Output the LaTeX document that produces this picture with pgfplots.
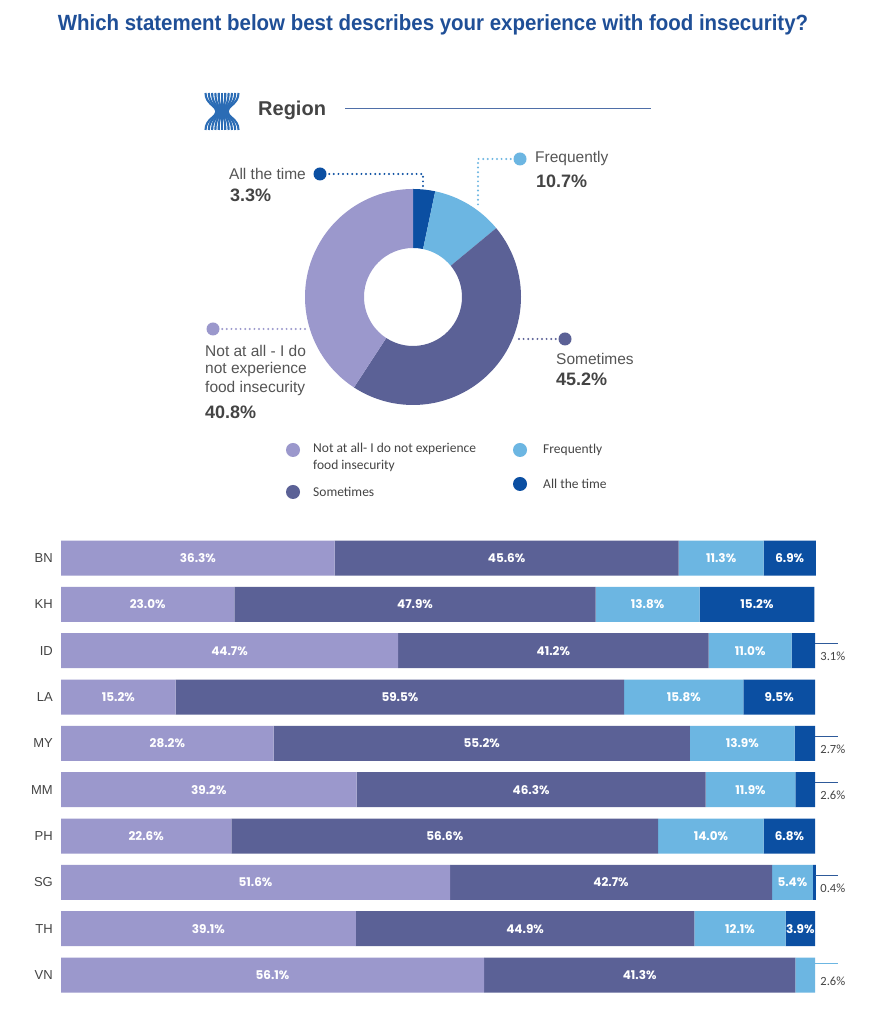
\documentclass[border=0pt]{standalone}
\usepackage{pgfplots}
\usepackage{pgfplotstable}
\pgfplotsset{compat=1.18}
\usepackage{fontspec}
\setmainfont{Liberation Sans}
\newfontfamily\carlito{Carlito}
\newfontfamily\poppins{Poppins}
\definecolor{cNot}{HTML}{9B98CC}
\definecolor{cSome}{HTML}{5B6196}
\definecolor{cFreq}{HTML}{6CB6E2}
\definecolor{cAll}{HTML}{0B4FA2}
\definecolor{titleblue}{HTML}{1F4F97}
\definecolor{txt}{HTML}{555555}
\definecolor{pct}{HTML}{444444}
\definecolor{iconblue}{HTML}{2B6CB5}
\definecolor{rule}{HTML}{4F6FA8}
\definecolor{lineblue}{HTML}{2E5A9A}

% rows: 9 = BN (top) ... 0 = VN (bottom)
\pgfplotstableread{
r a b c d
9 36.3 45.6 11.3 6.9
8 23.0 47.9 13.8 15.2
7 44.7 41.2 11.0 3.1
6 15.2 59.5 15.8 9.5
5 28.2 55.2 13.9 2.7
4 39.2 46.3 11.9 2.6
3 22.6 56.6 14.0 6.8
2 51.6 42.7 5.4 0.4
1 39.1 44.9 12.1 3.9
0 56.1 41.3 2.6 0.0
}\bardata

\pgfplotstableread{
x y v
18.15 9 36.3
59.10 9 45.6
87.55 9 11.3
96.65 9 6.9
11.50 8 23.0
46.95 8 47.9
77.80 8 13.8
92.30 8 15.2
22.35 7 44.7
65.30 7 41.2
91.40 7 11.0
7.60 6 15.2
44.95 6 59.5
82.60 6 15.8
95.25 6 9.5
14.10 5 28.2
55.80 5 55.2
90.35 5 13.9
19.60 4 39.2
62.35 4 46.3
91.45 4 11.9
11.30 3 22.6
50.90 3 56.6
86.20 3 14.0
96.60 3 6.8
25.80 2 51.6
72.95 2 42.7
97.00 2 5.4
19.55 1 39.1
61.55 1 44.9
90.05 1 12.1
98.05 1 3.9
28.05 0 56.1
76.75 0 41.3
}\inlabels

\pgfplotstableread{
x y v
100.7 6.87 3.1
100.7 4.87 2.7
100.7 3.87 2.6
100.7 1.87 0.4
100.7 -0.13 2.6
}\outlabels

% region-level shares
\def\vAll{3.3}
\def\vFreq{10.7}
\def\vSome{45.2}
\def\vNot{40.8}

\newcommand\slice[3]{%
  \fill[#3] (axis cs:{108*cos(#1)},{108*sin(#1)}) arc[start angle=#1, end angle=#2, radius=108pt]
    -- (axis cs:{49*cos(#2)},{49*sin(#2)}) arc[start angle=#2, end angle=#1, radius=49pt] -- cycle;}

\begin{document}
\begin{tikzpicture}
\begin{scope}[x=1pt,y=1pt]
\fill[white] (0,0) rectangle (882,1024);

% title
\node[titleblue, font=\fontsize{22}{26}\selectfont\bfseries, xscale=0.93] at (433,999)
  {Which statement below best describes your experience with food insecurity?};

% region header
\foreach \i in {-5,...,5} {
  \draw[iconblue, line width=2.1pt]
    ({222+3.3*\i},{1024-93}) .. controls ({222+3.3*\i},{1024-104}) and ({222+1.1*\i},{1024-106}) ..
    ({222+1.1*\i},{1024-111.5}) .. controls ({222+1.1*\i},{1024-117}) and ({222+3.3*\i},{1024-119}) ..
    ({222+3.3*\i},{1024-130});
}
\node[anchor=west, inner sep=0pt, font=\fontsize{20}{24}\selectfont\bfseries, color=pct] at (258,{1024-110}) {Region};
\draw[rule, line width=1pt] (345,{1024-109}) -- (651,{1024-109});

% callouts
\tikzset{dots/.style={line width=2.2pt, line cap=round, dash pattern=on 0pt off 4.6pt}}
\draw[dots, cAll] (320,{1024-174}) -- (423,{1024-174}) -- (423,{1024-188});
\fill[cAll] (320,{1024-174}) circle (6.5);
\draw[dots, cFreq] (520,{1024-159}) -- (478,{1024-159}) -- (478,{1024-208});
\fill[cFreq] (520,{1024-159}) circle (6.5);
\draw[dots, cSome] (565,{1024-339}) -- (515,{1024-339});
\fill[cSome] (565,{1024-339}) circle (6.5);
\draw[dots, cNot] (213,{1024-329}) -- (308,{1024-329});
\fill[cNot] (213,{1024-329}) circle (6.5);

\tikzset{lab/.style={anchor=west, inner sep=0pt, color=txt, font=\fontsize{15.5}{18}\selectfont},
         pc/.style={anchor=west, inner sep=0pt, color=pct, font=\fontsize{18}{21}\selectfont\bfseries}}
\node[lab] at (229,{1024-174}) {All the time};
\node[pc] at (230,{1024-195}) {3.3\%};
\node[lab] at (535,{1024-159}) {Frequently};
\node[pc] at (536,{1024-181}) {10.7\%};
\node[lab] at (556,{1024-359}) {Sometimes};
\node[pc] at (556,{1024-379}) {45.2\%};
\node[lab] at (205,{1024-351}) {Not at all - I do};
\node[lab] at (205,{1024-370}) {not experience};
\node[lab] at (205,{1024-389}) {food insecurity};
\node[pc] at (205,{1024-412}) {40.8\%};

% legend
\tikzset{leg/.style={anchor=west, inner sep=0pt, color=pct, font=\carlito\fontsize{13.5}{15}\selectfont}}
\fill[cNot] (293,{1024-450}) circle (7);
\fill[cSome] (293,{1024-492}) circle (7);
\fill[cFreq] (520,{1024-450}) circle (7);
\fill[cAll] (520,{1024-484}) circle (7);
\node[leg] at (313,{1024-449}) {Not at all- I do not experience};
\node[leg] at (313,{1024-466}) {food insecurity};
\node[leg] at (313,{1024-492}) {Sometimes};
\node[leg] at (543,{1024-450}) {Frequently};
\node[leg] at (543,{1024-484}) {All the time};
\end{scope}

% donut angles from data
\pgfmathsetmacro\aA{90}
\pgfmathsetmacro\aB{90-3.6*\vAll}
\pgfmathsetmacro\aC{90-3.6*(\vAll+\vFreq)}
\pgfmathsetmacro\aD{90-3.6*(\vAll+\vFreq+\vSome)}
\pgfmathsetmacro\aE{90-3.6*(\vAll+\vFreq+\vSome+\vNot)}

\begin{axis}[at={(413pt,727pt)}, anchor=center, scale only axis,
  width=216pt, height=216pt, xmin=-108, xmax=108, ymin=-108, ymax=108,
  hide axis, clip=false]
\slice{\aA}{\aB}{cAll}
\slice{\aB}{\aC}{cFreq}
\slice{\aC}{\aD}{cSome}
\slice{\aD}{\aE}{cNot}
\end{axis}

% stacked bars
\begin{axis}[
  at={(61pt,25.8pt)}, anchor=south west, scale only axis,
  width=754pt, height=463.3pt,
  xbar stacked, bar width=35pt,
  xmin=0, xmax=100, ymin=-0.5, ymax=9.5,
  clip=false,
  axis line style={draw=none}, tick style={draw=none},
  xtick=\empty, ytick={0,...,9},
  yticklabels={VN,TH,SG,PH,MM,MY,LA,ID,KH,BN},
  yticklabel style={font=\fontsize{13}{15}\selectfont, color=pct, inner sep=0pt, xshift=-8pt},
]
\addplot[fill=cNot, draw=none] table[x=a, y=r] \bardata;
\addplot[fill=cSome, draw=none] table[x=b, y=r] \bardata;
\addplot[fill=cFreq, draw=none] table[x=c, y=r] \bardata;
\addplot[fill=cAll, draw=none] table[x=d, y=r] \bardata;
\end{axis}

% labels overlay
\begin{axis}[
  at={(61pt,25.8pt)}, anchor=south west, scale only axis,
  width=754pt, height=463.3pt,
  xmin=0, xmax=100, ymin=-0.5, ymax=9.5,
  hide axis, clip=false]
\addplot[draw=none, mark=none, point meta=explicit,
  nodes near coords={\pgfmathprintnumber[fixed,fixed zerofill,precision=1,assume math mode=true]{\pgfplotspointmeta}\%},
  every node near coord/.append style={anchor=center, text=white, inner sep=0pt,
     font=\poppins\bfseries\fontsize{12}{14}\selectfont}]
  table[x=x, y=y, meta=v] \inlabels;
\addplot[draw=none, mark=none, point meta=explicit,
  nodes near coords={\pgfmathprintnumber[fixed,fixed zerofill,precision=1,assume math mode=true]{\pgfplotspointmeta}\%},
  every node near coord/.append style={anchor=west, text=pct, inner sep=0pt,
     font=\carlito\fontsize{12.5}{14}\selectfont}]
  table[x=x, y=y, meta=v] \outlabels;
\addplot[lineblue, line width=0.9pt] coordinates {(100,7.15) (103,7.15)};
\addplot[lineblue, line width=0.9pt] coordinates {(100,5.15) (103,5.15)};
\addplot[lineblue, line width=0.9pt] coordinates {(100,4.15) (103,4.15)};
\addplot[lineblue, line width=0.9pt] coordinates {(100,2.15) (103,2.15)};
\addplot[cFreq, line width=0.9pt] coordinates {(100,0.24) (103,0.24)};
\end{axis}
\end{tikzpicture}
\end{document}
